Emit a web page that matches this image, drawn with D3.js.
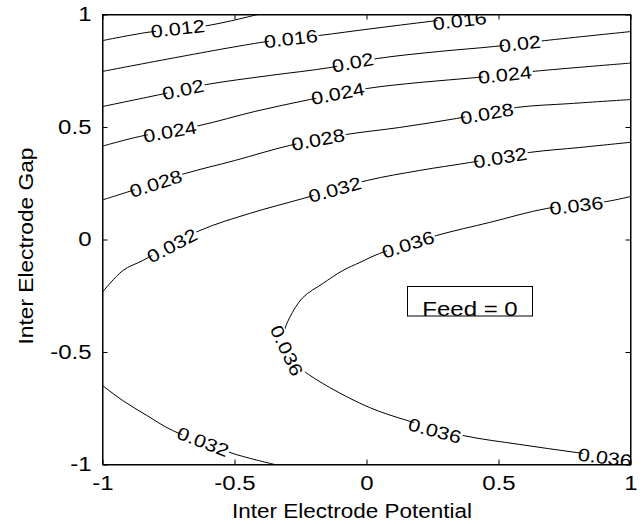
<!DOCTYPE html>
<html>
<head>
<meta charset="utf-8">
<script src="https://cdn.jsdelivr.net/npm/d3@7"></script>
<style>
body { margin: 0; background: #fff; }
text { font-family: Arial, "Liberation Sans", Helvetica, sans-serif; fill: #000; }
</style>
</head>
<body>
<svg width="643" height="524"></svg>
<script>
// ticks and titles
var xTicks = [-1, -0.5, 0, 0.5, 1];
var yTicks = [-1, -0.5, 0, 0.5, 1];
var tickLabels = ["-1", "-0.5", "0", "0.5", "1"];
var xTitle = "Inter Electrode Potential";
var yTitle = "Inter Electrode Gap";
var legendText = "Feed = 0";

// contour lines, [potential, gap]
var c012 = [[-1,0.884],[-0.828,0.921],[-0.601,0.951],[-0.412,1]];
var c016 = [[-1,0.747],[-0.393,0.877],[-0.177,0.907],[0.013,0.936],[0.247,0.970],[0.467,1]];
var c020 = [[-1,0.591],[-0.783,0.644],[-0.605,0.689],[-0.366,0.729],[-0.139,0.764],[0.039,0.804],[0.278,0.836],[0.486,0.858],[0.675,0.884],[1,0.924]];
var c024 = [[-1,0.415],[-0.859,0.458],[-0.631,0.507],[-0.423,0.569],[-0.215,0.622],[0.001,0.671],[0.202,0.698],[0.418,0.720],[0.630,0.747],[1,0.784]];
var c028 = [[-1,0.176],[-0.908,0.210],[-0.688,0.293],[-0.499,0.351],[-0.291,0.418],[-0.075,0.467],[0.126,0.498],[0.342,0.538],[0.569,0.587],[0.770,0.604],[1,0.622]];
var c032a = [[-1,-0.234],[-0.923,-0.138],[-0.847,-0.093],[-0.631,0.040],[-0.442,0.116],[-0.241,0.182],[0.001,0.262],[0.202,0.307],[0.391,0.342],[0.618,0.387],[0.808,0.409],[1,0.432]];
var c032b = [[-1,-0.649],[-0.923,-0.716],[-0.832,-0.782],[-0.734,-0.849],[-0.506,-0.951],[-0.347,-1]];
var c036 = [[1,0.191],[0.910,0.169],[0.683,0.138],[0.467,0.076],[0.266,0.018],[0.050,-0.062],[-0.025,-0.102],[-0.090,-0.138],[-0.166,-0.196],[-0.241,-0.258],[-0.291,-0.347],[-0.313,-0.413],[-0.317,-0.471],[-0.294,-0.529],[-0.241,-0.582],[-0.139,-0.658],[0.012,-0.747],[0.153,-0.804],[0.365,-0.871],[0.581,-0.911],[0.797,-0.947],[1,-0.978]];

var levels = [0.012, 0.016, 0.02, 0.024, 0.028, 0.032, 0.032, 0.036];
var contourPts = [c012, c016, c020, c024, c028, c032a, c032b, c036];

// inline labels: [contour index, potential, gap]
var labelPos = [
  [0,-0.715,0.938],
  [1,-0.287,0.893],[1,0.353,0.973],
  [2,-0.695,0.667],[2,-0.052,0.787],[2,0.581,0.871],
  [3,-0.745,0.480],[3,-0.109,0.649],[3,0.524,0.733],
  [4,-0.798,0.249],[4,-0.184,0.444],[4,0.456,0.560],
  [5,-0.737,-0.027],[5,-0.120,0.222],[5,0.506,0.364],
  [6,-0.619,-0.898],
  [7,0.795,0.151],[7,0.157,-0.022],[7,-0.302,-0.493],[7,0.259,-0.849],[7,0.903,-0.969]
];

var stretch = 1.2;
var svg = d3.select("svg");

var x = d3.scaleLinear().domain([-1, 1]).range([102.5, 630.5]);
var y = d3.scaleLinear().domain([-1, 1]).range([464.5, 14.5]);

svg.append("clipPath").attr("id", "plotclip")
  .append("rect")
  .attr("x", x(-1)).attr("y", y(1))
  .attr("width", x(1) - x(-1)).attr("height", y(-1) - y(1));

var plot = svg.append("g").attr("clip-path", "url(#plotclip)");

var line = d3.line()
  .x(function(d) { return x(d[0]); })
  .y(function(d) { return y(d[1]); })
  .curve(d3.curveCatmullRom.alpha(0.5));

plot.selectAll("path.contour")
  .data(contourPts)
  .enter()
  .append("path")
    .attr("class", "contour")
    .attr("d", line)
    .attr("fill", "none")
    .attr("stroke", "#000")
    .attr("stroke-width", 1);

// angle of the contour near a label, in screen space
function labelAngle(pts, px, py) {
  var best = Infinity, ang = 0;
  for (var i = 0; i < pts.length - 1; i++) {
    var ax = x(pts[i][0]), ay = y(pts[i][1]);
    var bx = x(pts[i+1][0]), by = y(pts[i+1][1]);
    var dx = bx - ax, dy = by - ay;
    var t = ((px - ax) * dx + (py - ay) * dy) / (dx * dx + dy * dy);
    t = Math.max(0, Math.min(1, t));
    var ex = ax + t * dx - px, ey = ay + t * dy - py;
    var dist = ex * ex + ey * ey;
    if (dist < best) {
      best = dist;
      ang = Math.atan2(dy, dx) * 180 / Math.PI;
    }
  }
  if (ang > 90) ang -= 180;
  if (ang <= -90) ang += 180;
  return ang;
}

labelPos.forEach(function(l) {
  var px = x(l[1]), py = y(l[2]);
  var ang = labelAngle(contourPts[l[0]], px, py);
  var g = plot.append("g")
    .attr("transform", "translate(" + px + "," + py + ") rotate(" + ang + ")");
  var bg = g.append("rect").attr("fill", "#fff");
  var t = g.append("text")
    .attr("text-anchor", "middle")
    .attr("dy", "0.36em")
    .style("font-size", "18px")
    .text(String(levels[l[0]]));
  var w = t.node().getComputedTextLength() * stretch;
  t.attr("textLength", w).attr("lengthAdjust", "spacingAndGlyphs");
  bg.attr("x", -w / 2 + 5).attr("y", -7.5)
    .attr("width", w - 4).attr("height", 15);
});

// axes, ticks pointing inwards on all four sides
var xAxis = svg.append("g")
  .attr("transform", "translate(0," + y(-1) + ")")
  .call(d3.axisBottom(x).tickValues(xTicks)
    .tickFormat(function(d, i) { return tickLabels[i]; })
    .tickSizeInner(-5).tickSizeOuter(0).tickPadding(11));

var yAxis = svg.append("g")
  .attr("transform", "translate(" + x(-1) + ",0)")
  .call(d3.axisLeft(y).tickValues(yTicks)
    .tickFormat(function(d, i) { return tickLabels[i]; })
    .tickSizeInner(-5).tickSizeOuter(0).tickPadding(11));

svg.append("g")
  .attr("transform", "translate(0," + y(1) + ")")
  .call(d3.axisTop(x).tickValues(xTicks).tickFormat("")
    .tickSizeInner(-5).tickSizeOuter(0));

svg.append("g")
  .attr("transform", "translate(" + x(1) + ",0)")
  .call(d3.axisRight(y).tickValues(yTicks).tickFormat("")
    .tickSizeInner(-5).tickSizeOuter(0));

svg.selectAll(".domain, .tick line").attr("stroke", "#000");

svg.selectAll(".tick text")
  .attr("fill", "#000")
  .style("font-size", "20px")
  .style("font-family", 'Arial, "Liberation Sans", Helvetica, sans-serif')
  .each(function() {
    var w = this.getComputedTextLength() * stretch;
    d3.select(this).attr("textLength", w).attr("lengthAdjust", "spacingAndGlyphs");
  });

svg.append("rect")
  .attr("x", x(-1)).attr("y", y(1))
  .attr("width", x(1) - x(-1)).attr("height", y(-1) - y(1))
  .attr("fill", "none").attr("stroke", "#000");

// axis titles
svg.append("text")
  .attr("x", 352).attr("y", 518)
  .attr("text-anchor", "middle")
  .style("font-size", "20px")
  .attr("textLength", 240).attr("lengthAdjust", "spacingAndGlyphs")
  .text(xTitle);

svg.append("text")
  .attr("transform", "translate(33,246) rotate(-90)")
  .attr("text-anchor", "middle")
  .style("font-size", "20px")
  .attr("textLength", 197).attr("lengthAdjust", "spacingAndGlyphs")
  .text(yTitle);

// legend box
svg.append("rect")
  .attr("x", 407.5).attr("y", 286.5)
  .attr("width", 125).attr("height", 29.5)
  .attr("fill", "#fff").attr("stroke", "#000");

var lt = svg.append("text")
  .attr("x", 470).attr("y", 316)
  .attr("text-anchor", "middle")
  .style("font-size", "20px")
  .text(legendText);
lt.attr("textLength", lt.node().getComputedTextLength() * stretch)
  .attr("lengthAdjust", "spacingAndGlyphs");
</script>
</body>
</html>
